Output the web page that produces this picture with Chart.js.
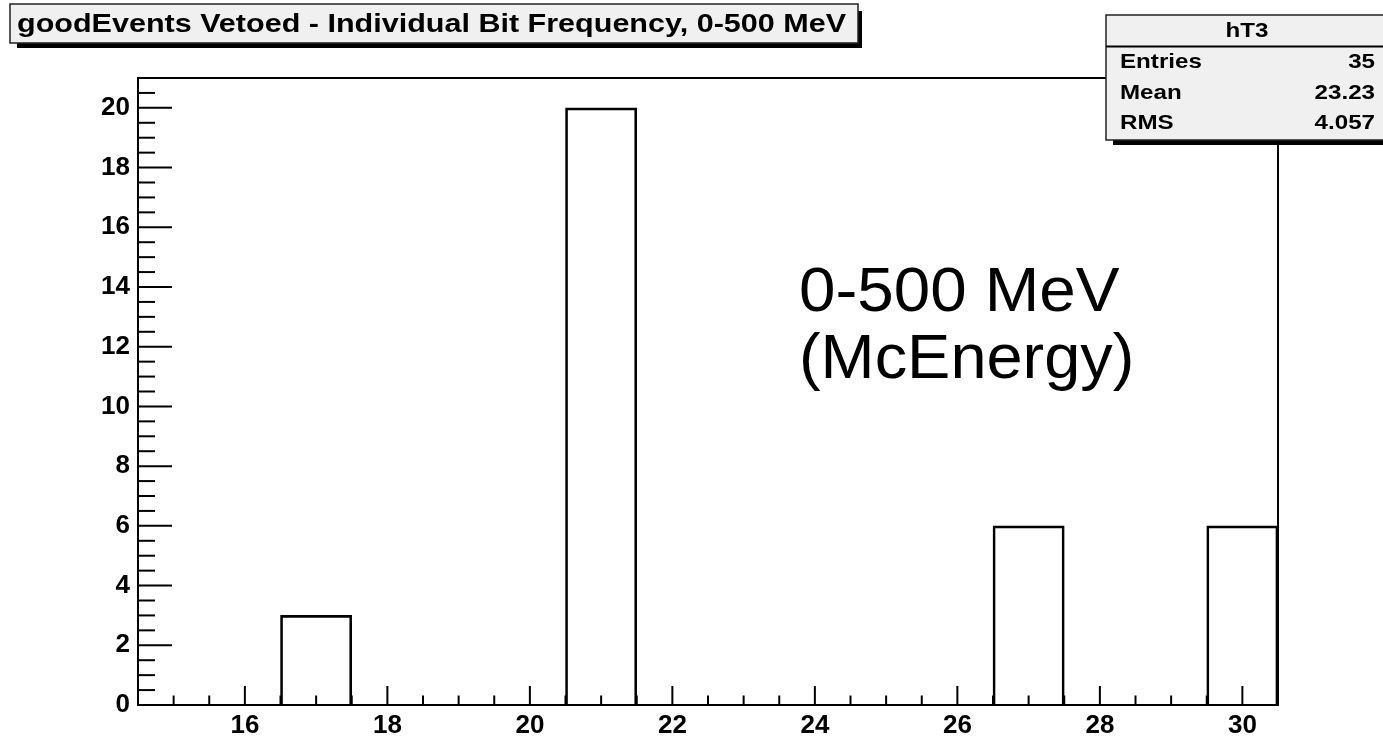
<!DOCTYPE html>
<html><head><meta charset="utf-8">
<script src="https://cdn.jsdelivr.net/npm/chart.js@4/dist/chart.umd.min.js"></script>
<style>html,body{margin:0;padding:0;background:#fff;} #wrap{position:relative;width:1383px;height:738px;}</style>
</head><body><div id="wrap"><canvas id="c"></canvas></div>
<script>
const titleText = 'goodEvents Vetoed - Individual Bit Frequency, 0-500 MeV';
const histName = 'hT3';
const binCenters = [15,16,17,18,19,20,21,22,23,24,25,26,27,28,29,30];
const binCounts  = [0, 0, 3, 0, 0, 0, 20,0, 0, 0, 0, 0, 6, 0, 0, 6];
const xMajorTicks = [16,18,20,22,24,26,28,30];
const yMajorTicks = [0,2,4,6,8,10,12,14,16,18,20];
const minorStep = 0.5;
const statsLabels = ['Entries','Mean','RMS'];
const statsValues = ['35','23.23','4.057'];
const noteLines = ['0-500 MeV','(McEnergy)'];
const xRange = [14.5, 30.5];
const yRange = [0, 21];

const SANS = '"Liberation Sans", Arial, Helvetica, sans-serif';
function isMajor(v, majors){ return majors.some(m => Math.abs(m - v) < 1e-6); }
function drawStretched(ctx, text, x, y, font, sx, align){
  ctx.save(); ctx.font = font; ctx.translate(x, y); ctx.scale(sx, 1);
  ctx.textAlign = align || 'left'; ctx.textBaseline = 'alphabetic';
  ctx.fillStyle = '#000'; ctx.fillText(text, 0, 0); ctx.restore();
}
function shadowBox(ctx, x, y, w, h, lw){
  ctx.save();
  ctx.fillStyle = '#000';
  ctx.fillRect(x + 7, y + h, w - 7 + 4, 5);
  ctx.fillRect(x + w, y + 7, 4, h - 7 + 5);
  ctx.fillStyle = '#f0f0f0';
  ctx.fillRect(x, y, w, h);
  ctx.strokeStyle = '#222'; ctx.lineWidth = lw;
  ctx.strokeRect(x, y, w, h);
  ctx.restore();
}
function minorValues(scale){
  const out = [];
  for (let v = Math.ceil(scale.min / minorStep) * minorStep; v <= scale.max + 1e-9; v += minorStep) out.push(v);
  return out;
}

const rootPlugin = {
  id: 'rootStyle',
  afterDatasetsDraw(chart){
    const ctx = chart.ctx, a = chart.chartArea;
    const xs = chart.scales.x, ys = chart.scales.y;
    ctx.save();
    ctx.strokeStyle = '#000'; ctx.lineWidth = 2; ctx.lineCap = 'butt';
    ctx.beginPath();
    ctx.moveTo(a.left, a.top); ctx.lineTo(a.right, a.top); ctx.lineTo(a.right, a.bottom);
    ctx.stroke();
    minorValues(xs).forEach(v => {
      const px = xs.getPixelForValue(v);
      const len = isMajor(v, xMajorTicks) ? 19 : 9.5;
      ctx.beginPath(); ctx.moveTo(px, a.bottom); ctx.lineTo(px, a.bottom - len); ctx.stroke();
    });
    minorValues(ys).forEach(v => {
      const py = ys.getPixelForValue(v);
      const len = isMajor(v, yMajorTicks) ? 34 : 17;
      ctx.beginPath(); ctx.moveTo(a.left, py); ctx.lineTo(a.left + len, py); ctx.stroke();
    });
    ctx.restore();
    drawStretched(ctx, noteLines[0], 799, 311, '63px ' + SANS, 1.04, 'left');
    drawStretched(ctx, noteLines[1], 799, 378, '63px ' + SANS, 1.03, 'left');
  },
  afterDraw(chart){
    const ctx = chart.ctx;
    shadowBox(ctx, 10, 4, 848, 39, 1.5);
    ctx.save(); ctx.font = 'bold 25px ' + SANS;
    const tw = ctx.measureText(titleText).width; ctx.restore();
    drawStretched(ctx, titleText, 17, 32, 'bold 25px ' + SANS, 829 / tw, 'left');
    const bx = 1106, by = 15, bw = 290, bh = 125;
    shadowBox(ctx, bx, by, bw, bh, 1.5);
    ctx.save(); ctx.strokeStyle = '#000'; ctx.lineWidth = 2;
    ctx.beginPath(); ctx.moveTo(bx, 46.5); ctx.lineTo(bx + bw, 46.5); ctx.stroke(); ctx.restore();
    drawStretched(ctx, histName, 1247, 37, 'bold 21px ' + SANS, 1.15, 'center');
    const rows = [68, 99, 129];
    statsLabels.forEach((l, i) => {
      drawStretched(ctx, l, 1120, rows[i], 'bold 21px ' + SANS, 1.15, 'left');
      drawStretched(ctx, statsValues[i], 1375, rows[i], 'bold 21px ' + SANS, 1.15, 'right');
    });
  }
};

new Chart(document.getElementById('c'), {
  type: 'bar',
  data: {
    datasets: [{
      data: binCenters.map((c, i) => ({x: c, y: binCounts[i]})),
      backgroundColor: 'rgba(0,0,0,0)',
      borderColor: '#000',
      borderWidth: 2,
      barPercentage: 1.0,
      categoryPercentage: 1.0
    }]
  },
  options: {
    responsive: true, maintainAspectRatio: false, animation: false,
    layout: { padding: { top: 78, right: 105, left: 0, bottom: 0 } },
    plugins: { legend: { display: false }, tooltip: { enabled: false }, title: { display: false } },
    scales: {
      x: {
        type: 'linear', min: xRange[0], max: xRange[1], offset: false,
        grid: { display: true, drawOnChartArea: false, drawTicks: false },
        border: { display: true, color: '#000', width: 2 },
        afterBuildTicks: s => { s.ticks = xMajorTicks.map(v => ({ value: v })); },
        ticks: {
          autoSkip: false, maxRotation: 0, padding: 5, color: '#000',
          font: { family: SANS, size: 26, weight: 'bold' },
          callback: v => String(Math.round(v))
        },
        afterFit: s => { s.height = 33; }
      },
      y: {
        type: 'linear', min: yRange[0], max: yRange[1],
        grid: { display: true, drawOnChartArea: false, drawTicks: false },
        border: { display: true, color: '#000', width: 2 },
        afterBuildTicks: s => { s.ticks = yMajorTicks.map(v => ({ value: v })); },
        ticks: {
          autoSkip: false, padding: 8, color: '#000',
          font: { family: SANS, size: 26, weight: 'bold' },
          callback: v => String(Math.round(v))
        },
        afterFit: s => { s.width = 138; }
      }
    }
  },
  plugins: [rootPlugin]
});
</script></body></html>
